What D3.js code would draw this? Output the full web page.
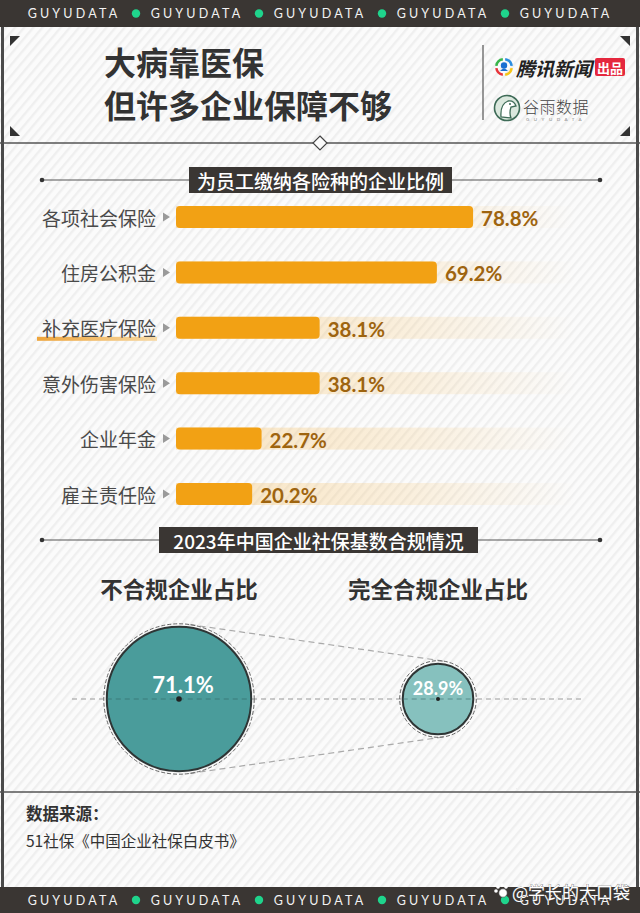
<!DOCTYPE html>
<html><head><meta charset="utf-8">
<script src="https://cdn.jsdelivr.net/npm/d3@7"></script>
<style>
html,body{margin:0;padding:0;background:#fff;}
svg{display:block;}
</style></head>
<body>
<svg id="chart" width="640" height="913"></svg>
<script>
// ---------------- data ----------------
const brandWord = "GUYUDATA";
const headlineLines = ["大病靠医保", "但许多企业保障不够"];
const section1Title = "为员工缴纳各险种的企业比例";
const categories = ["各项社会保险", "住房公积金", "补充医疗保险", "意外伤害保险", "企业年金", "雇主责任险"];
const values = [78.8, 69.2, 38.1, 38.1, 22.7, 20.2];
const highlighted = "补充医疗保险";
const section2Title = "2023年中国企业社保基数合规情况";
const complianceLabels = ["不合规企业占比", "完全合规企业占比"];
const complianceValues = [71.1, 28.9];
const sourceTitle = "数据来源：";
const sourceText = "51社保《中国企业社保白皮书》";
const watermark = "@学长的大口袋";

// ---------------- setup ----------------
const W = 640, H = 913;
const svg = d3.select("#chart");
const CJK = "'Noto Sans CJK SC','Noto Sans',sans-serif";
const NUM = "Lato,'Noto Sans',sans-serif";
const dark = "#3a3633";

const defs = svg.append("defs");
const pat = defs.append("pattern").attr("id","stripes").attr("patternUnits","userSpaceOnUse")
  .attr("width",7).attr("height",7).attr("patternTransform","rotate(40)");
pat.append("rect").attr("width",7).attr("height",7).attr("fill","#fbfbfb");
pat.append("rect").attr("width",2.4).attr("height",7).attr("fill","#efefef");

const trackGrad = defs.append("linearGradient").attr("id","trackGrad")
  .attr("x1","0%").attr("x2","100%");
trackGrad.append("stop").attr("offset","0%").attr("stop-color","#f6c777").attr("stop-opacity",0.45);
trackGrad.append("stop").attr("offset","60%").attr("stop-color","#f6c777").attr("stop-opacity",0.22);
trackGrad.append("stop").attr("offset","100%").attr("stop-color","#f6c777").attr("stop-opacity",0);

const ulGrad = defs.append("linearGradient").attr("id","ulGrad").attr("x1","0%").attr("x2","100%");
ulGrad.append("stop").attr("offset","0%").attr("stop-color","#eea43a");
ulGrad.append("stop").attr("offset","100%").attr("stop-color","#f7d9a4");

// background
svg.append("rect").attr("width",W).attr("height",H).attr("fill","url(#stripes)");

// top / bottom bands
function band(y0, h, ty){
  svg.append("rect").attr("x",0).attr("y",y0).attr("width",W).attr("height",h).attr("fill",dark);
  const xs = d3.range(5).map(i => 74 + i*123);
  svg.append("g").selectAll("text").data(xs).join("text")
    .attr("x",d=>d).attr("y",ty).attr("text-anchor","middle").attr("dominant-baseline","central")
    .attr("fill","#f2f2f2").attr("font-family",NUM).attr("font-size",12.5).attr("font-weight",400)
    .attr("letter-spacing","3.2px").text(brandWord);
  svg.append("g").selectAll("circle").data(xs.slice(0,4)).join("circle")
    .attr("cx",d=>d+62).attr("cy",ty).attr("r",4.2).attr("fill","#1fd48c");
}
band(0, 27, 13.5);
band(887, 26, 900);

// frame
svg.append("line").attr("x1",2.5).attr("x2",2.5).attr("y1",27).attr("y2",887).attr("stroke","#4a4a4a").attr("stroke-width",3);
svg.append("line").attr("x1",637.5).attr("x2",637.5).attr("y1",27).attr("y2",887).attr("stroke","#4a4a4a").attr("stroke-width",3);

// corner triangles
const tri = [
  [[10,36],[20,36],[10,46]],
  [[630,36],[620,36],[630,46]],
  [[10,126],[20,136],[10,136]],
  [[630,126],[620,136],[630,136]]
];
svg.append("g").selectAll("path").data(tri).join("path")
  .attr("d",d=>"M"+d.join("L")+"Z").attr("fill","#333");

// headline
svg.append("g").selectAll("text").data(headlineLines).join("text")
  .attr("x",104).attr("y",(d,i)=>61+i*43).attr("dominant-baseline","central")
  .attr("font-family",CJK).attr("font-weight",700).attr("font-size",32).attr("fill","#333")
  .text(d=>d);

// divider
svg.append("line").attr("x1",483).attr("x2",483).attr("y1",45).attr("y2",120).attr("stroke","#555").attr("stroke-width",1.2);

// Tencent logo
const tl = svg.append("g").attr("transform","translate(504,67)");
const arcG = d3.arc().innerRadius(6.5).outerRadius(9);
const segCols = ["#2a8de0","#f5c518","#e8353b","#39b54a"];
segCols.forEach((c,i)=>{
  tl.append("path").attr("d",arcG({startAngle:i*Math.PI/2+0.15,endAngle:(i+1)*Math.PI/2-0.15})).attr("fill",c);
});
tl.append("circle").attr("cx",0).attr("cy",-1.5).attr("r",3.2).attr("fill","#1a6fd1");
tl.append("path").attr("d","M-4,4 Q0,-1 4,4 Z").attr("fill","#1a6fd1");
svg.append("text").attr("x",516).attr("y",67).attr("dominant-baseline","central")
  .attr("font-family",CJK).attr("font-weight",700).attr("font-style","italic").attr("font-size",19).attr("fill","#222")
  .text("腾讯新闻");
svg.append("rect").attr("x",595).attr("y",58).attr("width",30).attr("height",18).attr("rx",2).attr("fill","#e5283e");
svg.append("text").attr("x",610).attr("y",67.5).attr("text-anchor","middle").attr("dominant-baseline","central")
  .attr("font-family",CJK).attr("font-weight",700).attr("font-size",13).attr("fill","#fff").text("出品");

// Guyu logo
const gl = svg.append("g").attr("transform","translate(507,108)");
gl.append("circle").attr("r",12.5).attr("fill","#dbe8de").attr("stroke","#3e6b57").attr("stroke-width",1.6);
gl.append("path").attr("d","M-6,9 Q-7,-4 1,-7 Q7,-8 9,-2 L4,-1 Q2,5 4,10 Z").attr("fill","#fff").attr("stroke","#3e6b57").attr("stroke-width",1.3);
gl.append("circle").attr("cx",3).attr("cy",-4).attr("r",1).attr("fill","#3e6b57");
svg.append("text").attr("x",523).attr("y",106).attr("dominant-baseline","central")
  .attr("font-family",CJK).attr("font-weight",300).attr("font-size",16).attr("fill","#444").attr("letter-spacing","0.5px").text("谷雨数据");
svg.append("text").attr("x",526).attr("y",119).attr("dominant-baseline","central")
  .attr("font-family",NUM).attr("font-size",4.5).attr("fill","#888").attr("letter-spacing","4.5px").text(brandWord);

// separator line with diamond
svg.append("line").attr("x1",0).attr("x2",W).attr("y1",143).attr("y2",143).attr("stroke","#555").attr("stroke-width",1.4);
svg.append("path").attr("d","M320,136 L327,143 L320,150 L313,143 Z").attr("fill","#fbfbfb").attr("stroke","#444").attr("stroke-width",1.2);

// section title helper
function sectionTitle(y, text, x0, x1){
  svg.append("line").attr("x1",42).attr("x2",600).attr("y1",y).attr("y2",y).attr("stroke","#555").attr("stroke-width",1.2);
  svg.append("circle").attr("cx",42).attr("cy",y).attr("r",2.3).attr("fill","#333");
  svg.append("circle").attr("cx",600).attr("cy",y).attr("r",2.3).attr("fill","#333");
  svg.append("rect").attr("x",x0).attr("y",y-13).attr("width",x1-x0).attr("height",26).attr("fill",dark);
  svg.append("text").attr("x",(x0+x1)/2).attr("y",y+0.5).attr("text-anchor","middle").attr("dominant-baseline","central")
    .attr("font-family",CJK).attr("font-weight",500).attr("font-size",19).attr("fill","#fff").text(text);
}
sectionTitle(180, section1Title, 189, 452);

// ---------------- bar chart ----------------
const x = d3.scaleLinear().domain([0,100]).range([176, 553]);
const y = d3.scalePoint().domain(categories).range([189.3, 521.7]).padding(0.5);
const barH = 22;
const rows = svg.append("g").selectAll("g").data(categories.map((c,i)=>({c, v:values[i]}))).join("g")
  .attr("transform",d=>`translate(0,${y(d.c)})`);

rows.append("rect").attr("x",x(0)).attr("y",-barH/2).attr("width",575-x(0)).attr("height",barH)
  .attr("fill","url(#trackGrad)");
rows.filter(d=>d.c===highlighted).append("rect")
  .attr("x",37).attr("y",9).attr("width",120).attr("height",4).attr("fill","url(#ulGrad)");
rows.append("text").attr("x",156).attr("y",0).attr("text-anchor","end").attr("dominant-baseline","central")
  .attr("font-family",CJK).attr("font-size",19).attr("fill","#4a4a4a").text(d=>d.c);
rows.append("path").attr("d","M163,-4.5 L170,0 L163,4.5 Z").attr("fill","#9a9a9a");
rows.append("rect").attr("x",x(0)).attr("y",-barH/2).attr("width",d=>x(d.v)-x(0)).attr("height",barH)
  .attr("rx",4).attr("fill","#f2a114");
rows.append("text").attr("x",d=>x(d.v)+8).attr("y",1).attr("dominant-baseline","central")
  .attr("font-family",NUM).attr("font-weight",700).attr("font-size",20.5).attr("fill","#9e640f")
  .text(d=>d.v.toFixed(1)+"%");

// ---------------- compliance circles ----------------
sectionTitle(540, section2Title, 159, 478);
const cx = d3.scalePoint().domain(complianceLabels).range([179, 438]);
const r = d3.scaleLinear().domain([0,100]).range([10, 97.5]);
const cy = 699;

svg.append("g").selectAll("text").data(complianceLabels).join("text")
  .attr("x",d=>cx(d)).attr("y",588).attr("text-anchor","middle").attr("dominant-baseline","central")
  .attr("font-family",CJK).attr("font-weight",700).attr("font-size",22.5).attr("fill","#333").text(d=>d);

svg.append("line").attr("x1",72).attr("x2",584).attr("y1",cy).attr("y2",cy)
  .attr("stroke","#9a9a9a").attr("stroke-width",1.2).attr("stroke-dasharray","5,4");

// tangent lines
const c1 = cx(complianceLabels[0]), c2 = cx(complianceLabels[1]);
const R1 = r(complianceValues[0]) + 3, R2 = r(complianceValues[1]) + 3;
const dd = c2 - c1, nx = (R1 - R2)/dd, ny = Math.sqrt(1 - nx*nx);
[-1, 1].forEach(s=>{
  svg.append("line").attr("x1",c1+R1*nx).attr("y1",cy+s*R1*ny).attr("x2",c2+R2*nx).attr("y2",cy+s*R2*ny)
    .attr("stroke","#aaa").attr("stroke-width",1.2).attr("stroke-dasharray","6,4");
});

const cdata = complianceLabels.map((l,i)=>({l, v:complianceValues[i]}));
const fills = ["#4a9c9b", "#86c1be"];
const cg = svg.append("g").selectAll("g").data(cdata).join("g")
  .attr("transform",d=>`translate(${cx(d.l)},${cy})`);
cg.append("circle").attr("r",d=>r(d.v)+3).attr("fill","none").attr("stroke","#666").attr("stroke-width",1).attr("stroke-dasharray","4,2");
cg.append("circle").attr("r",d=>r(d.v)).attr("fill",(d,i)=>fills[i]).attr("stroke","#2e3535").attr("stroke-width",2);
cg.append("line").attr("x1",d=>-r(d.v)).attr("x2",d=>r(d.v)).attr("y1",0).attr("y2",0)
  .attr("stroke","#2f5f5e").attr("stroke-opacity",0.55).attr("stroke-width",1).attr("stroke-dasharray","5,4");
cg.append("circle").attr("r",(d,i)=>i===0?2.8:2).attr("fill","#222");
cg.append("text").attr("x",(d,i)=>i===0?4:0).attr("y",(d,i)=>i===0?-15:-11)
  .attr("text-anchor","middle").attr("dominant-baseline","central")
  .attr("font-family",NUM).attr("font-weight",700).attr("font-size",(d,i)=>i===0?22:18).attr("fill","#fff")
  .text(d=>d.v.toFixed(1)+"%");

// ---------------- footer ----------------
svg.append("line").attr("x1",0).attr("x2",W).attr("y1",792).attr("y2",792).attr("stroke","#555").attr("stroke-width",1.4);
svg.append("text").attr("x",26).attr("y",813).attr("dominant-baseline","central")
  .attr("font-family",CJK).attr("font-weight",700).attr("font-size",16.5).attr("fill","#333").text(sourceTitle);
svg.append("text").attr("x",26).attr("y",840).attr("dominant-baseline","central")
  .attr("font-family",CJK).attr("font-size",15.5).attr("fill","#333").text(sourceText);

// watermark (overlaps the bottom band as in the reference)
const wm = svg.append("g");
const paw = wm.append("g").attr("transform","translate(502,891)");
[[-4,-4],[0,-6],[4,-4],[-6,0]].forEach(p=>paw.append("circle").attr("cx",p[0]).attr("cy",p[1]).attr("r",1.8).attr("fill","#fff"));
paw.append("circle").attr("cx",1).attr("cy",2).attr("r",4.2).attr("fill","#fff").attr("stroke","#444").attr("stroke-width",0.6);
wm.append("text").attr("x",512).attr("y",891).attr("dominant-baseline","central")
  .attr("font-family",CJK).attr("font-size",17).attr("fill","#fff").attr("stroke","#555").attr("stroke-width",0.6)
  .attr("paint-order","stroke").text(watermark);
</script>
</body></html>
